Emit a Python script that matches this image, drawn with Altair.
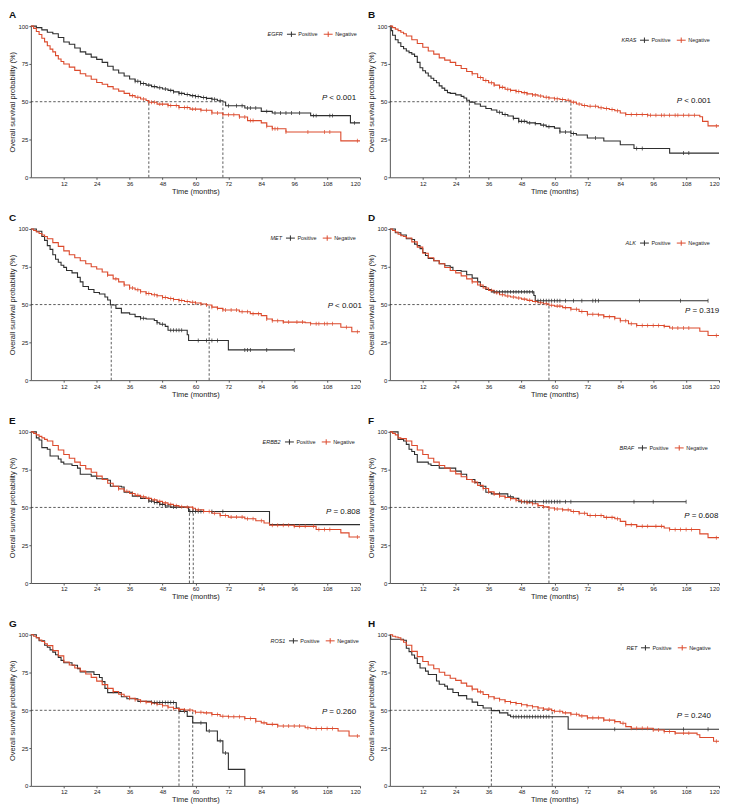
import altair as alt
import pandas as pd

BLACK = "#2e2e2e"
RED = "#dc4a2c"
FONT = "Liberation Sans"

genes = ["EGFR", "KRAS", "MET", "ALK", "ERBB2", "BRAF", "ROS1", "RET"]
letters = ["A", "B", "C", "D", "E", "F", "G", "H"]
p_values = ["< 0.001", "< 0.001", "< 0.001", "= 0.319", "= 0.808", "= 0.608", "= 0.260", "= 0.240"]
p_time = [106.1, 104.6, 108.2, 107.6, 107.6, 107.3, 106.1, 104.6]
p_surv = [52.5, 50.5, 48.8, 46.0, 46.8, 44.2, 49.0, 46.0]
medians_pos = [70.0, 29.0, 29.3, None, 57.8, None, 54.0, 37.0]
medians_neg = [43.0, 66.0, 65.0, 58.0, 59.2, 58.0, 59.0, 59.2]
legend_offsets = [3, 9, 4, 9, 5, 11, 1, 8]

# ---------------- A: EGFR ----------------
EGFR_pos_t = [0, 2, 4, 6, 8, 10, 12, 14, 16, 18, 20, 22, 24, 26, 28, 30, 32, 34, 36, 38, 40, 42, 44, 46, 48, 50, 52, 54, 56, 58, 60, 62, 64, 66, 68, 70, 71, 78, 84, 88, 102, 116.5, 120]
EGFR_pos_s = [100, 99, 97.5, 96, 95, 92.5, 89.5, 88, 85.5, 83, 81.5, 79.5, 78, 76, 73.5, 71, 69, 67, 65, 63.5, 62, 61, 60, 59.2, 58.4, 57.5, 56.5, 55.5, 54.8, 54, 53.4, 52.8, 52.2, 51.6, 50.6, 49.8, 47.3, 45.8, 43.6, 42.5, 40.8, 36, 36]
EGFR_pos_c = [38, 39, 40, 41, 43, 45, 47, 49, 51, 52, 54, 55, 57, 59, 60, 61, 63, 64, 66, 67, 69, 72, 75, 77, 79, 80, 82, 86, 89, 91, 93, 95, 98, 103, 104, 109, 110, 118]
EGFR_neg_t = [0, 1, 2, 3, 4, 5, 6, 7, 8, 9, 10, 11, 12, 14, 16, 18, 20, 22, 24, 26, 28, 30, 32, 34, 36, 38, 40, 42, 43, 46, 50, 54, 58, 62, 66, 70, 76, 79, 84, 86, 88, 93, 113, 120]
EGFR_neg_s = [100, 98.5, 96.5, 94.5, 92, 89.6, 87, 84.8, 83, 80.5, 78.3, 76.6, 75, 72.9, 70.7, 68.5, 67, 64.9, 62.7, 61.5, 60, 58.4, 57, 55.5, 54, 53, 51.8, 50.8, 49.6, 48.4, 47.5, 46.2, 45.1, 44.3, 42.5, 41.4, 39.9, 37.5, 36, 33.8, 32.1, 30, 24.1, 24.1]
EGFR_neg_c = [37, 39, 41, 43, 44, 45, 47, 48, 50, 51, 53, 54, 56, 57, 59, 60, 62, 64, 66, 68, 70, 72, 74, 76, 78, 80, 81, 86, 88, 89, 90, 93, 101, 107, 109, 119]

# ---------------- B: KRAS ----------------
KRAS_pos_t = [0, 0.5, 1, 2, 3, 4, 5, 6, 7, 8, 9, 10, 11, 12, 13, 14, 15, 16, 17, 18, 19, 20, 21, 22, 24, 26, 27, 28, 29, 31, 33, 35, 37, 39, 41, 43, 45, 47, 50, 53, 55, 57, 60, 62, 66, 68, 72, 78, 84, 89, 102, 120]
KRAS_pos_s = [100, 97, 94, 91, 89, 86.5, 85, 83.5, 82.5, 81.5, 80, 76, 72.5, 70.5, 69, 67, 65.5, 64, 62.5, 60.5, 59, 57.5, 56, 55.5, 54.5, 53.5, 52.5, 51, 49.7, 48.5, 47, 45.5, 44.5, 43, 41.5, 40.5, 39, 37, 36, 35.5, 34.5, 33.5, 32.5, 30, 29, 28, 26, 24, 21.5, 19, 16, 16]
KRAS_pos_c = [40, 42, 45, 47, 48, 49, 51, 53, 56, 58, 62, 64, 67, 75, 90, 92, 107, 109]
KRAS_neg_t = [0, 1, 2, 3, 4, 5, 6, 8, 10, 12, 14, 16, 18, 20, 22, 24, 26, 28, 30, 32, 34, 36, 38, 40, 42, 44, 46, 48, 50, 52, 54, 56, 58, 60, 62, 64, 66, 68, 70, 72, 76, 78, 80, 82, 84, 86, 94, 113, 114, 116, 120]
KRAS_neg_s = [100, 99, 98, 97, 96, 95, 93.5, 91, 88.5, 86, 83.5, 81.5, 79, 77.5, 76, 74, 72, 70, 68.5, 66, 64, 62.5, 61, 59.5, 58.2, 57.5, 56.8, 56, 55.2, 54.5, 53.8, 53, 52.5, 52, 51.5, 51, 49.7, 48.5, 47.5, 47, 46, 45.5, 44.8, 44, 42.5, 41.5, 41, 40, 37, 34, 34]
KRAS_neg_c = [30, 33, 35, 37, 38, 40, 41, 43, 44, 46, 47, 49, 50, 52, 53, 55, 57, 58, 60, 61, 63, 65, 67, 69, 71, 73, 75, 77, 79, 81, 83, 86, 88, 90, 92, 94, 95, 97, 99, 100, 102, 104, 105, 107, 109, 111, 119]

# ---------------- C: MET ----------------
MET_pos_t = [0, 2, 4, 5, 6, 7, 8, 9, 10, 11, 12, 13, 15, 17, 18, 19, 21, 23, 25, 27, 28, 29, 31, 33, 36, 38, 40, 42, 45, 46, 47, 49, 50, 57, 57.5, 72, 96]
MET_pos_s = [100, 98.5, 95, 92.5, 89, 86.5, 83, 80, 78, 76, 74.6, 72.5, 71, 68, 65, 62, 60, 58, 57, 55, 53, 49.7, 47.5, 44.5, 43.6, 42, 41, 40.5, 39.5, 38, 37, 35.6, 33, 30, 26.2, 20, 20]
MET_pos_c = [40, 41, 46, 48, 51, 52, 53, 54, 55, 61, 64, 66, 68, 78, 79, 80, 86, 96]
MET_neg_t = [0, 1, 2, 3, 4, 5, 6, 8, 10, 12, 14, 16, 18, 20, 22, 24, 26, 28, 30, 32, 34, 36, 38, 40, 42, 44, 46, 48, 50, 52, 54, 56, 58, 60, 62, 64, 66, 68, 70, 76, 80, 84, 86, 88, 92, 100, 102, 113, 117, 120]
MET_neg_s = [100, 99, 98, 97, 96, 95, 93.5, 91, 88.5, 85.5, 83, 81, 79, 77, 75, 73.5, 71.5, 69.5, 67, 65, 63, 61, 59.8, 58.5, 57.3, 56.5, 55.8, 54.7, 54, 53.4, 52.7, 52, 51.5, 51, 50.4, 49.7, 48.3, 47.5, 46.4, 45.3, 44, 42.7, 40.5, 39.3, 38.4, 38, 37.3, 35, 32, 32]
MET_neg_c = [28, 31, 34, 36, 37, 39, 40, 42, 43, 45, 46, 48, 49, 51, 52, 54, 55, 57, 59, 60, 62, 64, 66, 68, 70, 71, 73, 75, 77, 79, 81, 83, 86, 88, 90, 92, 94, 97, 99, 102, 104, 105, 107, 108, 110, 115, 119]

# ---------------- D: ALK ----------------
ALK_pos_t = [0, 2, 4, 6, 8, 9, 10, 11, 12, 13, 14, 16, 18, 20, 22, 23, 26, 28, 30, 32, 33, 35, 37, 52.5, 53, 116]
ALK_pos_s = [100, 97.5, 96, 93.5, 93, 90, 89, 87, 84.5, 82.5, 80.5, 79, 77, 75.7, 74.6, 72.5, 72, 69.7, 67.5, 65, 62, 60, 58.4, 56, 52.5, 52.5]
ALK_pos_c = [38, 39, 40, 41, 42, 43, 44, 45, 46, 47, 48, 49, 50, 51, 52, 54, 55, 56, 57, 58, 59, 60, 61, 62, 64, 67, 70, 74, 75, 76, 91, 106, 116]
ALK_neg_t = [0, 1, 2, 3, 4, 5, 6, 8, 10, 12, 14, 16, 18, 20, 22, 24, 26, 28, 30, 32, 34, 36, 38, 40, 42, 44, 46, 48, 50, 52, 54, 56, 58, 60, 63, 66, 69, 72, 76, 78, 82, 84, 87, 90, 100, 102, 113, 116, 120]
ALK_neg_s = [100, 99, 98, 96.5, 95.5, 95, 94, 91.5, 88, 84, 81, 79, 77, 74.5, 72.5, 71, 69, 67, 65, 63, 61, 59.4, 57.8, 56.5, 55.7, 55, 54.3, 53.6, 52.8, 52, 51.2, 50.5, 49.6, 49, 48, 46.9, 45.4, 43.6, 43.2, 42, 41, 39.3, 37.3, 36.2, 35.6, 34.5, 32.3, 29.5, 29.5]
ALK_neg_c = [30, 33, 35, 37, 39, 41, 43, 45, 47, 49, 51, 53, 55, 57, 59, 61, 62, 64, 66, 68, 70, 72, 74, 76, 78, 80, 82, 84, 86, 88, 90, 92, 94, 96, 98, 100, 103, 105, 107, 109, 119]

# ---------------- E: ERBB2 ----------------
ERBB2_pos_t = [0, 2, 3, 4, 6, 7, 10, 11, 12, 15, 17, 18, 22, 24, 28, 29, 33, 34, 37, 40, 43, 45, 47, 49, 51, 57.5, 87, 120]
ERBB2_pos_s = [100, 96, 94.6, 89.6, 88.5, 84, 82, 80, 78.7, 77.7, 76, 72, 70.7, 69, 68, 64, 63.5, 60, 57.5, 56, 54.2, 53.3, 52, 51, 50.2, 47.3, 38.6, 38.6]
ERBB2_pos_c = [43, 44, 45, 46, 47, 48, 49, 50, 52, 53, 58, 59, 60, 61, 62, 66, 70]
ERBB2_neg_t = [0, 1, 2, 3, 4, 5, 6, 8, 10, 12, 14, 16, 18, 20, 22, 24, 26, 28, 30, 32, 34, 36, 38, 40, 42, 44, 46, 48, 50, 52, 54, 56, 59, 60, 63, 66, 69, 72, 78, 82, 85, 87, 96, 104, 113, 116, 120]
ERBB2_neg_s = [100, 99, 98, 97, 96, 95, 94, 91, 88, 85, 82.5, 80, 77.7, 75.5, 73.3, 70.7, 68.5, 66, 64, 62.3, 60.7, 59.2, 58, 57, 56, 55, 54, 53, 52, 51.2, 50.5, 50.2, 49.5, 48.4, 47.3, 46.2, 44.7, 43.6, 42.5, 41.2, 39.7, 38.2, 37.5, 35.4, 33.2, 30.4, 30.4]
ERBB2_neg_c = [32, 35, 37, 39, 41, 43, 45, 47, 49, 51, 53, 55, 57, 59, 61, 63, 65, 67, 69, 71, 73, 75, 77, 79, 81, 84, 88, 90, 92, 94, 96, 98, 100, 103, 105, 107, 109, 119]

# ---------------- F: BRAF ----------------
BRAF_pos_t = [0, 3, 5, 6, 7, 8, 9, 10, 14, 15, 18, 24, 26, 28, 31, 33, 35, 37, 43, 45, 47, 108]
BRAF_pos_s = [100, 95, 94, 91.7, 88.5, 87, 85, 80, 78.7, 77.7, 76, 74, 72, 68.5, 66.4, 64, 60, 59, 57, 56, 53.8, 53.8]
BRAF_pos_c = [40, 44, 48, 49, 50, 51, 52, 53, 56, 57, 58, 59, 60, 61, 62, 64, 66, 89, 96, 108]
BRAF_neg_t = [0, 1, 2, 3, 4, 6, 8, 10, 12, 14, 16, 18, 20, 22, 24, 26, 28, 30, 32, 34, 36, 38, 40, 42, 44, 46, 48, 50, 52, 54, 56, 58, 60, 63, 66, 69, 72, 78, 82, 84, 86, 90, 100, 102, 113, 116, 120]
BRAF_neg_s = [100, 99, 98, 96, 95.5, 94, 91, 88, 85, 82.5, 80, 77.7, 76, 74, 72.2, 70.3, 68.5, 66.8, 64.6, 62.5, 60.3, 58.8, 57.5, 56.6, 55.8, 54.8, 53.8, 53.1, 52.4, 51.2, 50.4, 49.6, 49, 48.4, 47.3, 46.2, 44.7, 43.4, 42.5, 40.8, 38.6, 37.5, 36.4, 35.4, 32.5, 30, 30]
BRAF_neg_c = [31, 34, 36, 38, 40, 42, 44, 46, 48, 50, 52, 54, 56, 58, 60, 61, 63, 65, 67, 69, 71, 73, 75, 77, 79, 81, 83, 86, 88, 90, 92, 94, 97, 99, 102, 104, 106, 108, 110, 119]

# ---------------- G: ROS1 ----------------
ROS1_pos_t = [0, 2, 3, 5, 6, 7, 8, 9, 10, 11, 12, 15, 17, 18, 23, 25, 26, 27, 28, 33, 35, 39, 44, 53, 54, 57, 59, 64, 68, 70, 72, 78]
ROS1_pos_s = [100, 98, 96, 93, 91.7, 90, 88.5, 86.7, 85, 83, 81.5, 79.8, 77.6, 75.4, 73.7, 71.7, 69, 64.5, 61.7, 59, 57.6, 55.9, 55.2, 51.5, 49.3, 46, 41.7, 36.3, 29.8, 21.7, 10.9, 0]
ROS1_pos_c = [44, 45, 46, 47, 48, 49, 50, 51, 52, 56, 62, 65, 69, 71]
ROS1_neg_t = [0, 1, 2, 3, 4, 5, 6, 8, 10, 12, 14, 16, 18, 20, 22, 24, 26, 28, 30, 32, 34, 36, 38, 40, 42, 44, 46, 48, 50, 52, 54, 56, 59, 60, 63, 66, 69, 72, 78, 82, 84, 86, 90, 100, 102, 112, 116, 120]
ROS1_neg_s = [100, 99, 98, 96.5, 95.5, 94, 92.8, 89.5, 86, 82, 80, 78, 75.9, 74, 71.8, 69.3, 67, 64.5, 62.4, 60.6, 59.3, 58, 57, 56, 55.4, 54.7, 54, 53, 52, 51.2, 50.6, 50.2, 49.5, 48.7, 48.3, 47.2, 46.1, 45.7, 44.6, 42.8, 41.7, 40.7, 39.6, 38.5, 38, 36.3, 33, 33]
ROS1_neg_c = [30, 33, 36, 38, 40, 42, 44, 46, 48, 50, 52, 54, 56, 58, 60, 62, 64, 66, 68, 70, 72, 74, 76, 78, 80, 82, 85, 88, 90, 92, 94, 96, 98, 101, 104, 106, 108, 110, 119]

# ---------------- H: RET ----------------
RET_pos_t = [0, 0.3, 5, 6, 7, 8, 9, 10, 11, 13, 14, 17, 18, 20, 21, 23, 25, 28, 30, 32, 34, 37, 40, 43, 44, 65, 120]
RET_pos_s = [100, 97, 96.3, 91, 88.8, 86.6, 84.5, 81, 78, 75.9, 73.7, 69.4, 67.2, 66, 64, 61.8, 59.7, 57.5, 55.4, 53.2, 51.5, 49.8, 48.3, 46.8, 45.7, 37.5, 37.5]
RET_pos_c = [45, 46, 47, 48, 49, 50, 51, 52, 53, 54, 55, 56, 57, 58, 82, 107, 116]
RET_neg_t = [0, 1, 2, 3, 4, 5, 6, 8, 10, 12, 14, 16, 18, 20, 22, 24, 26, 28, 30, 32, 34, 36, 38, 40, 42, 44, 46, 48, 50, 52, 54, 56, 59, 60, 63, 66, 69, 72, 78, 82, 84, 86, 88, 96, 100, 104, 112, 113, 118, 120]
RET_neg_s = [100, 99, 98.5, 98, 96.5, 95, 93, 89, 85.5, 82.3, 80, 77.5, 75.2, 73.2, 71.2, 69.8, 68, 66, 64, 62.2, 60.5, 59, 58, 57, 55.8, 55.2, 54.5, 53.7, 53, 52.3, 51.5, 50.8, 49.8, 49.4, 48.3, 47.4, 46.3, 45, 43.5, 42.5, 41.4, 39.2, 38.1, 37, 36, 34.9, 33.8, 32, 29.5, 29.5]
RET_neg_c = [30, 33, 36, 38, 40, 42, 44, 46, 48, 50, 52, 54, 56, 58, 60, 62, 64, 66, 68, 70, 72, 74, 76, 78, 80, 82, 85, 88, 90, 92, 94, 96, 98, 100, 102, 104, 107, 109, 119]

series = {
    "EGFR": {"Positive": (EGFR_pos_t, EGFR_pos_s, EGFR_pos_c), "Negative": (EGFR_neg_t, EGFR_neg_s, EGFR_neg_c)},
    "KRAS": {"Positive": (KRAS_pos_t, KRAS_pos_s, KRAS_pos_c), "Negative": (KRAS_neg_t, KRAS_neg_s, KRAS_neg_c)},
    "MET": {"Positive": (MET_pos_t, MET_pos_s, MET_pos_c), "Negative": (MET_neg_t, MET_neg_s, MET_neg_c)},
    "ALK": {"Positive": (ALK_pos_t, ALK_pos_s, ALK_pos_c), "Negative": (ALK_neg_t, ALK_neg_s, ALK_neg_c)},
    "ERBB2": {"Positive": (ERBB2_pos_t, ERBB2_pos_s, ERBB2_pos_c), "Negative": (ERBB2_neg_t, ERBB2_neg_s, ERBB2_neg_c)},
    "BRAF": {"Positive": (BRAF_pos_t, BRAF_pos_s, BRAF_pos_c), "Negative": (BRAF_neg_t, BRAF_neg_s, BRAF_neg_c)},
    "ROS1": {"Positive": (ROS1_pos_t, ROS1_pos_s, ROS1_pos_c), "Negative": (ROS1_neg_t, ROS1_neg_s, ROS1_neg_c)},
    "RET": {"Positive": (RET_pos_t, RET_pos_s, RET_pos_c), "Negative": (RET_neg_t, RET_neg_s, RET_neg_c)},
}

GROUPS = ["Positive", "Negative"]
W, H = 331, 152


def step_value(ts, ss, t):
    v = ss[0]
    for ti, si in zip(ts, ss):
        if ti <= t:
            v = si
        else:
            break
    return v


def x_enc(field="t"):
    return alt.X(f"{field}:Q",
                 scale=alt.Scale(domain=[0, 120], nice=False),
                 axis=alt.Axis(values=list(range(12, 121, 12)), title="Time (months)", labelFlush=True))


def y_enc(field="s"):
    return alt.Y(f"{field}:Q",
                 scale=alt.Scale(domain=[0, 100], nice=False),
                 axis=alt.Axis(values=[0, 25, 50, 75, 100], title="Overall survival probability (%)"))


color_scale = alt.Scale(domain=GROUPS, range=[BLACK, RED])


def panel(i):
    g = genes[i]
    rows, cens = [], []
    for grp in GROUPS:
        ts, ss, cs = series[g][grp]
        for k, (t, s) in enumerate(zip(ts, ss)):
            rows.append({"t": t, "s": s, "group": grp, "k": k})
        for c in cs:
            cens.append({"t": c, "s": step_value(ts, ss, c), "group": grp})
    curve_df = pd.DataFrame(rows)
    cens_df = pd.DataFrame(cens)

    meds = [m for m in (medians_pos[i], medians_neg[i]) if m is not None]
    rule_rows = [{"t": 0, "t2": max(meds), "s": 50, "s2": 50}]
    for m in meds:
        rule_rows.append({"t": m, "t2": m, "s": 0, "s2": 50})
    rule_df = pd.DataFrame(rule_rows)

    txt_df = pd.DataFrame([{"t": p_time[i], "s": p_surv[i], "label": p_values[i]}])

    rules = alt.Chart(rule_df).mark_rule(color="#333333", strokeWidth=0.8, strokeDash=[2.5, 2]).encode(
        x=x_enc(), x2="t2:Q", y=y_enc(), y2="s2:Q")

    lines = alt.Chart(curve_df).mark_line(interpolate="step-after", strokeWidth=1.1).encode(
        x=x_enc(), y=y_enc(),
        color=alt.Color("group:N", scale=color_scale, sort=GROUPS,
                        legend=alt.Legend(title=g, orient="top-right", direction="horizontal",
                                          titleOrient="left", titleFontStyle="italic",
                                          titleFontWeight="normal", titleFontSize=5.5,
                                          labelFontSize=5.5, labelColor="#222222", titleColor="#222222",
                                          symbolType="M-1,0H1M0,-0.6V0.6", symbolSize=80,
                                          symbolStrokeWidth=1, columnPadding=3, labelOffset=2,
                                          padding=0, offset=legend_offsets[i], titlePadding=3)),
        order=alt.Order("k:Q"))

    ticks = alt.Chart(cens_df).mark_tick(orient="vertical", size=4, thickness=0.7, opacity=1).encode(
        x=x_enc(), y=y_enc(),
        fill=alt.Fill("group:N", scale=color_scale, sort=GROUPS, legend=None))

    p_letter = alt.Chart(txt_df).mark_text(text="P", align="left", baseline="middle", fontSize=8,
                                            fontStyle="italic", color="#111111").encode(x=x_enc(), y=y_enc())
    p_val = alt.Chart(txt_df).mark_text(align="left", baseline="middle", fontSize=8, dx=7.5,
                                         color="#111111").encode(x=x_enc(), y=y_enc(), text="label:N")

    return alt.layer(rules, lines, ticks, p_letter, p_val).properties(
        width=W, height=H,
        title=alt.TitleParams(letters[i], anchor="start", frame="bounds", fontSize=10,
                              fontWeight="bold", offset=3, color="#111111"))


rows = []
for r in range(4):
    rows.append(
        alt.hconcat(panel(2 * r), panel(2 * r + 1), spacing=4)
        .resolve_scale(color="independent", fill="independent")
        .resolve_legend(color="independent")
    )

chart = (
    alt.vconcat(*rows, spacing=18)
    .resolve_scale(color="independent", fill="independent")
    .resolve_legend(color="independent")
    .properties(padding={"left": 0, "top": 0, "right": 0, "bottom": 0})
    .configure(font=FONT)
    .configure_view(stroke=None)
    .configure_axis(labelFontSize=6, titleFontSize=7.5, titleFontWeight="normal",
                    labelColor="#222222", titleColor="#222222", domainColor="#555555",
                    tickColor="#555555", domainWidth=1, tickSize=2, labelPadding=1,
                    titlePadding=1, grid=False)
)

chart.save("out.html", embed_options={"renderer": "svg", "actions": False})
